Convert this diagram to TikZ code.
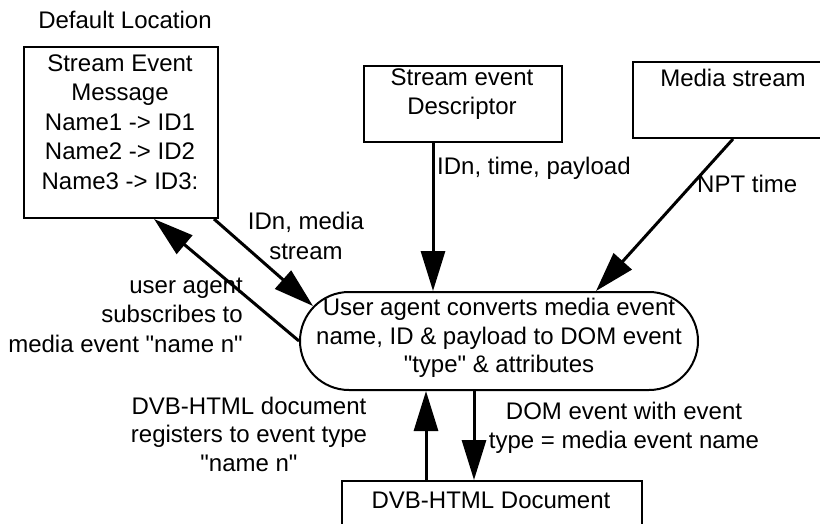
\documentclass[tikz,border=0pt]{standalone}
\usepackage{fontspec}
\setmainfont{Liberation Sans}[Ligatures=TeXOff]
\usetikzlibrary{arrows.meta,calc}
\tikzset{
  box/.style={draw, line width=2pt, inner sep=0pt, anchor=north west},
  lbl/.style={font=\fontsize{24}{29.5}\selectfont, align=center, inner sep=0pt},
  arr/.style={line width=3pt, -{Triangle[length=40pt,width=24pt]}},
}
\begin{document}
\begin{tikzpicture}[x=1pt,y=-1pt]
\useasboundingbox (0,0) rectangle (820,523);
\clip (0,0) rectangle (820,523);
% boxes
\node[box, minimum width=194pt, minimum height=171pt] (sem) at (23,46) {};
\node[box, minimum width=198pt, minimum height=76pt] (desc) at (363,65) {};
\node[box, minimum width=202pt, minimum height=76pt] (media) at (632,61) {};
\node[draw, line width=2pt, rounded corners=49pt, minimum width=398pt, minimum height=98pt, inner sep=0pt] (ell) at (499,341) {};
\node[box, minimum width=300pt, minimum height=70pt] (dvb) at (341,480) {};
% box texts
\node[lbl] (deflt) at (125,20) {Default Location};
\node[lbl] (semt) at (120,122) {Stream Event\\Message\\Name1 -> ID1\\Name2 -> ID2\\Name3 -> ID3:};
\node[lbl] (desct) at (462,94) {Stream event\\Descriptor};
\node[lbl] (mediat) at (733,78) {Media stream};
\node[lbl, font=\fontsize{24}{28.5}\selectfont] (ellt) at (499,338) {User agent converts media event\\name, ID \& payload to DOM event\\"type" \& attributes};
\node[lbl] (dvbt) at (491,500) {DVB-HTML Document};
% connectors
\draw[arr] ([xshift=-30pt]desc.south) -- ([xshift=-30pt]desc.south |- ell.north);
\draw[arr] ([xshift=-1pt]media.south) -- ([xshift=97pt]ell.north);
\draw[arr] ([xshift=-5pt]sem.south east) -- ($(ell.west)+(14,-35)$);
\draw[arr] (ell.west) -- ([xshift=131pt]sem.south west);
\draw[arr] ([xshift=-66pt]dvb.north) -- ([xshift=-66pt]dvb.north |- ell.south);
\draw[arr] ([xshift=-18pt]dvb.north |- ell.south) -- ([xshift=-18pt]dvb.north);
% connector labels
\node[lbl] (l1) at (306,236) {IDn, media\\stream};
\node[lbl, align=right, anchor=east] (l2) at (243,315) {user agent\\subscribes to\\media event "name n"};
\node[lbl, anchor=west] (l3) at (437,168) {IDn, time, payload};
\node[lbl, anchor=west] (l4) at (697,184) {NPT time};
\node[lbl, font=\fontsize{24}{28.5}\selectfont] (l5) at (249,434) {DVB-HTML document\\registers to event type\\"name n"};
\node[lbl] (l6) at (624,428) {DOM event with event\\type = media event name};
\end{tikzpicture}
\end{document}
